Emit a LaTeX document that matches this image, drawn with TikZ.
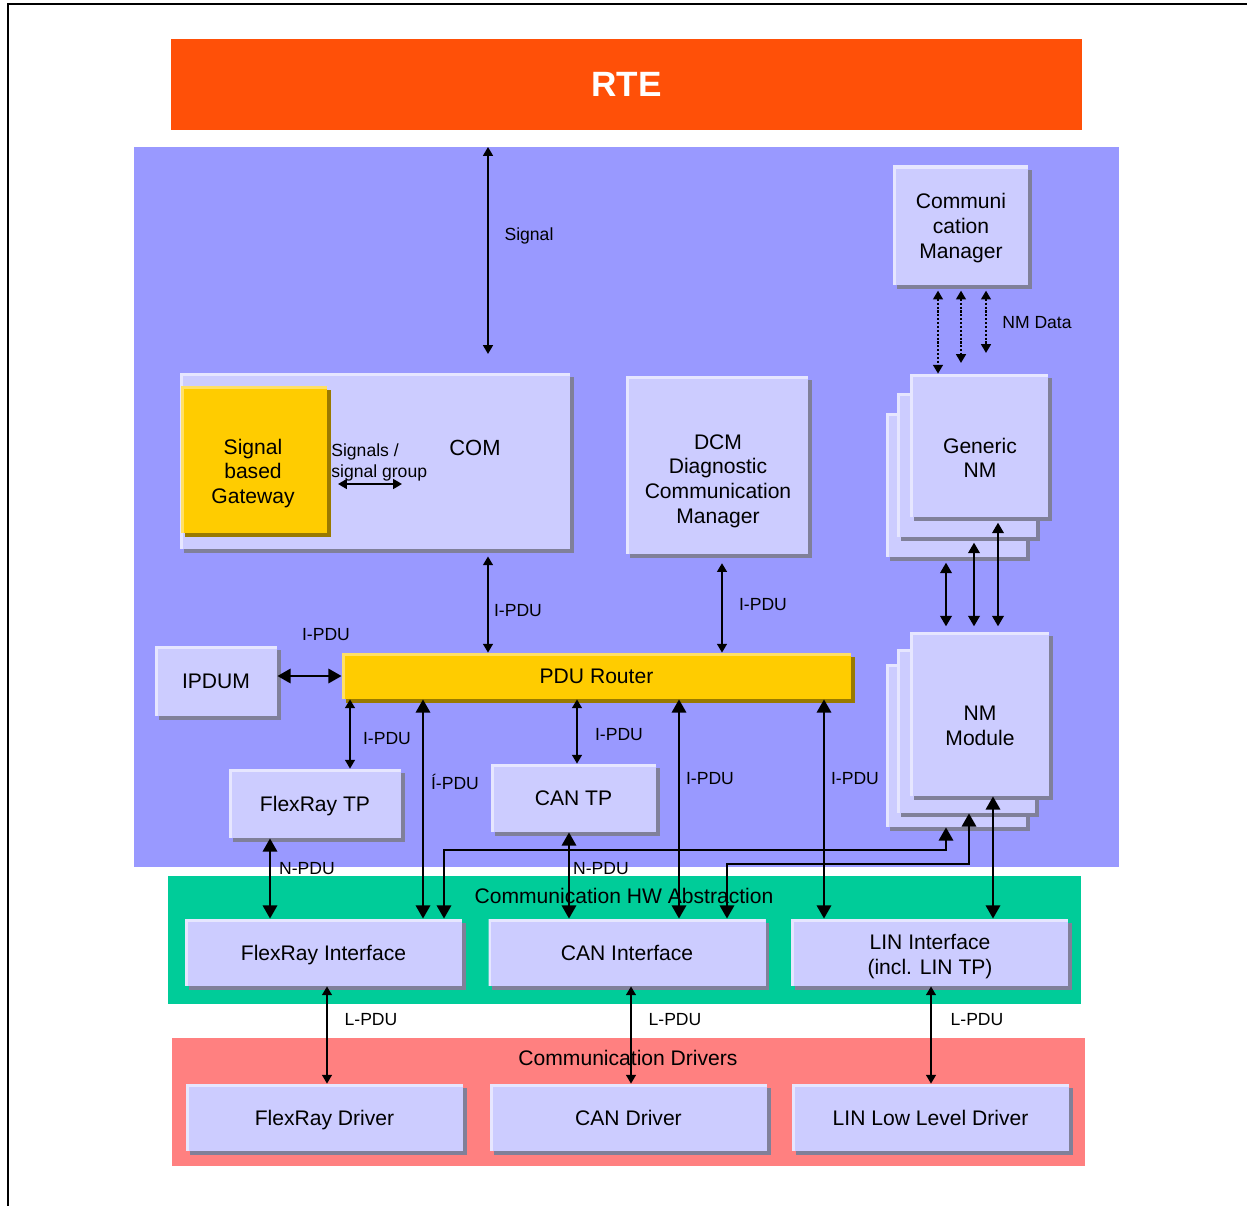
\documentclass[tikz,border=0pt]{standalone}
\usepackage{fontspec}
\setmainfont{Liberation Sans}
\usetikzlibrary{arrows.meta,shadows}

\definecolor{rteorange}{RGB}{255,80,8}
\definecolor{layerblue}{RGB}{153,153,255}
\definecolor{boxfill}{RGB}{204,204,255}
\definecolor{boxlight}{RGB}{230,230,255}
\definecolor{boxshade}{RGB}{128,128,153}
\definecolor{routeryellow}{RGB}{255,204,0}
\definecolor{yellowlight}{RGB}{255,224,102}
\definecolor{yellowshade}{RGB}{153,122,0}
\definecolor{hwgreen}{RGB}{0,204,153}
\definecolor{drvpink}{RGB}{255,128,128}

\tikzset{
  boxsz/.style 2 args={minimum width=#1*0.02cm, minimum height=#2*0.02cm},
  layer/.style={inner sep=0pt},
  modbox/.style={fill=boxfill, inner sep=0pt, text height=8.8pt, text depth=0pt,
    font=\fontsize{12}{14}\selectfont,
    drop shadow={shadow xshift=2pt, shadow yshift=-2pt, fill=boxshade, opacity=1},
    path picture={\draw[boxlight, line width=3pt]
      (path picture bounding box.south west) -- (path picture bounding box.north west)
      -- (path picture bounding box.north east);}},
  yellowbox/.style={modbox, fill=routeryellow,
    drop shadow={shadow xshift=2pt, shadow yshift=-2pt, fill=yellowshade, opacity=1},
    path picture={\draw[yellowlight, line width=3pt]
      (path picture bounding box.south west) -- (path picture bounding box.north west)
      -- (path picture bounding box.north east);}},
  boxtext/.style={inner sep=0pt, align=center, font=\fontsize{12}{14}\selectfont},
  lbl/.style={inner sep=0pt, font=\fontsize{10}{12}\selectfont},
  title/.style={inner sep=0pt, font=\fontsize{12}{14}\selectfont},
  link/.style={<->, >={Triangle[width=5.5pt,length=5pt]}, line width=1.2pt},
  midlink/.style={link, >={Triangle[width=6.5pt,length=6pt]}, line width=1.4pt,
    shorten <=3pt, shorten >=3pt},
  fatlink/.style={<->, >={Triangle[width=8pt,length=7.5pt]}, line width=1.6pt},
  nmdata/.style={link, densely dotted, shorten <=3pt}
}

\begin{document}
\begin{tikzpicture}[x=0.02cm, y=-0.02cm]
  \useasboundingbox (0,0) rectangle (1247,1206);
  \draw[line width=1.2pt] (8,1206) -- (8,4) -- (1247,4);

  % layers
  \node[layer, fill=rteorange, boxsz={911}{91}, text=white,
    font=\fontsize{20}{24}\selectfont\bfseries] (rte) at (626.5,84.5) {RTE};
  \node[layer, fill=layerblue, boxsz={985}{720}] (comstack) at (626.5,507) {};
  \node[layer, fill=hwgreen, boxsz={913}{128}] (hwabs) at (624.5,940) {};
  \node[layer, fill=drvpink, boxsz={913}{128}] (drivers) at (628.5,1102) {};

  % upper modules
  \node[modbox, boxsz={135}{119}] (commgr) at (960.5,225.5) {};
  \node[boxtext] (commgrtext) at (961,228) {Communi\\cation\\Manager};
  \node[modbox, boxsz={390}{176}] (com) at (375,461) {};
  \node[yellowbox, boxsz={146}{147}] (gateway) at (254,459.5) {};
  \node[boxtext] (gatewaytext) at (253,473.5) {Signal\\based\\Gateway};
  \node[title, font=\fontsize{12.5}{15}\selectfont] (comtitle) at (475,448) {COM};
  \node[lbl, anchor=west, align=left] (sglabel) at (331,462) {Signals /\\signal group};
  \node[modbox, boxsz={182}{178}] (dcm) at (717,465) {};
  \node[boxtext] (dcmtext) at (718,481) {DCM\\Diagnostic\\Communication\\Manager};

  % generic NM stack
  \node[modbox, boxsz={140}{144}] (genback) at (956,485) {};
  \node[modbox, boxsz={139}{144}] (genmid) at (966.5,465) {};
  \node[modbox, boxsz={138}{143}] (genfront) at (979,445.5) {};
  \node[boxtext] (genfronttext) at (980,458) {Generic\\NM};

  % NM module stack
  \node[modbox, boxsz={140}{163}] (nmback) at (956,745.5) {};
  \node[modbox, boxsz={138}{164}] (nmmid) at (966,731) {};
  \node[modbox, boxsz={139}{164}] (nmfront) at (979.5,714) {};
  \node[boxtext] (nmfronttext) at (980,726) {NM\\Module};

  % router level
  \node[yellowbox, boxsz={509}{46}] (router) at (596.5,676) {PDU Router};
  \node[modbox, boxsz={122}{70}] (ipdum) at (216,681) {IPDUM};
  \node[modbox, boxsz={172}{69}] (flextp) at (315,803.5) {FlexRay TP};
  \node[modbox, boxsz={165}{68}] (cantp) at (573.5,798) {CAN TP};

  % interfaces and drivers
  \node[title] (hwtitle) at (624,896) {Communication HW Abstraction};
  \node[modbox, boxsz={277}{67}] (flexif) at (323.5,952.5) {FlexRay Interface};
  \node[modbox, boxsz={277}{67}] (canif) at (627,952.5) {CAN Interface};
  \node[modbox, boxsz={277}{67}] (linif) at (929.5,952.5) {};
  \node[boxtext] (liniftext) at (930,956.5) {LIN Interface\\(incl. LIN TP)};
  \node[title] (drvtitle) at (628,1058) {Communication Drivers};
  \node[modbox, boxsz={277}{67}] (flexdrv) at (324.5,1117.5) {FlexRay Driver};
  \node[modbox, boxsz={277}{67}] (candrv) at (628.5,1117.5) {CAN Driver};
  \node[modbox, boxsz={277}{67}] (lindrv) at (930.5,1117.5) {LIN Low Level Driver};

  % free ends
  \coordinate (sigtop) at (488,147);
  \coordinate (sigend) at (488,354);
  \coordinate (sgl) at (338,484);
  \coordinate (sgr) at (402,484);
  \coordinate (nmd2) at (961,363);
  \coordinate (nmd3) at (986,353);
  \coordinate (busa) at (444,850);
  \coordinate (busb) at (946,850);
  \coordinate (busc) at (727,864);
  \coordinate (busd) at (969,864);

  % connectors
  \draw[link] (sigtop) -- (sigend);
  \draw[link] (sgl) -- (sgr);
  \draw[nmdata] (commgr.south -| 938,0) -- (genfront.north -| 938,0);
  \draw[nmdata] (commgr.south -| nmd2) -- (nmd2);
  \draw[nmdata] (commgr.south -| nmd3) -- (nmd3);
  \draw[midlink] (genback.south -| 946,0) -- (nmfront.north -| 946,0);
  \draw[midlink] (genmid.south -| 974,0) -- (nmfront.north -| 974,0);
  \draw[midlink] (genfront.south -| 998,0) -- (nmfront.north -| 998,0);
  \draw[link, shorten <=4pt] (com.south -| 488,0) -- (router.north -| 488,0);
  \draw[link, shorten <=5pt] (dcm.south -| 722,0) -- (router.north -| 722,0);
  \draw[fatlink] (ipdum.east |- router.west) -- (router.west);
  \draw[link] (router.south -| 350,0) -- (flextp.north -| 350,0);
  \draw[link] (router.south -| 577,0) -- (cantp.north -| 577,0);
  \draw[fatlink] (router.south -| 423,0) -- (flexif.north -| 423,0);
  \draw[fatlink] (router.south -| 679,0) -- (canif.north -| 679,0);
  \draw[fatlink] (router.south -| 824,0) -- (linif.north -| 824,0);
  \draw[fatlink] (flextp.south -| 270,0) -- (flexif.north -| 270,0);
  \draw[fatlink] (cantp.south -| 569,0) -- (canif.north -| 569,0);
  \draw[fatlink] (nmfront.south -| 993,0) -- (linif.north -| 993,0);
  \draw[fatlink] (flexif.north -| busa) |- (busb) -- (busb |- nmback.south);
  \draw[fatlink] (canif.north -| busc) |- (busd) -- (busd |- nmmid.south);
  \draw[link] (flexif.south -| 327,0) -- (flexdrv.north -| 327,0);
  \draw[link] (canif.south -| 631,0) -- (candrv.north -| 631,0);
  \draw[link] (linif.south -| 931,0) -- (lindrv.north -| 931,0);

  % connector labels
  \node[lbl] (lsig) at (529,236) {Signal};
  \node[lbl] (lnmdata) at (1037,323) {NM Data};
  \node[lbl] (lipdum) at (326,635) {I-PDU};
  \node[lbl] (lcom) at (518,611) {I-PDU};
  \node[lbl] (ldcm) at (763,605) {I-PDU};
  \node[lbl] (lflextp) at (387,739) {I-PDU};
  \node[lbl] (lcantp) at (619,735) {I-PDU};
  \node[lbl] (lflexif) at (455,782) {Í-PDU};
  \node[lbl] (lcanif) at (710,779) {I-PDU};
  \node[lbl] (llinif) at (855,779) {I-PDU};
  \node[lbl] (lnflex) at (307,869) {N-PDU};
  \node[lbl] (lncan) at (601,869) {N-PDU};
  \node[lbl] (llflex) at (371,1020) {L-PDU};
  \node[lbl] (llcan) at (675,1020) {L-PDU};
  \node[lbl] (lllin) at (977,1020) {L-PDU};
\end{tikzpicture}
\end{document}
